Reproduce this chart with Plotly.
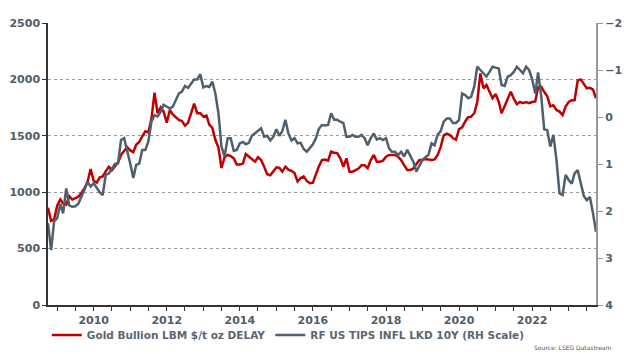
import pandas as pd
import plotly.graph_objects as go

# Monthly observations, Oct 2008 .. Oct 2023
dates = pd.date_range("2008-10-01", periods=181, freq="MS")

gold = [
    862, 745, 760, 880, 935, 900, 890, 965, 935, 945, 960, 995,
    1035, 1095, 1205, 1100, 1085, 1130, 1140, 1185, 1225, 1195, 1235, 1265,
    1330, 1370, 1400, 1370, 1355, 1420, 1445, 1495, 1540, 1530, 1650, 1882,
    1700, 1752, 1714, 1616, 1729, 1690, 1660, 1640, 1630, 1590, 1615, 1700,
    1785, 1700, 1700, 1670, 1680, 1600, 1570, 1465, 1395, 1215, 1310, 1330,
    1320, 1300, 1245, 1245, 1255, 1339, 1315, 1300, 1270, 1310, 1285, 1225,
    1160, 1150, 1185, 1220, 1215, 1182, 1226, 1200, 1190, 1170, 1095, 1125,
    1140, 1100, 1080, 1085, 1160, 1230, 1285, 1290, 1280, 1359, 1350, 1345,
    1300, 1226, 1300, 1182, 1182, 1197, 1210, 1240, 1240, 1212, 1285, 1330,
    1270, 1270, 1280, 1315, 1330, 1330, 1330, 1315, 1285, 1240, 1197, 1197,
    1210, 1250, 1285, 1285, 1295, 1290, 1285, 1290, 1330, 1400, 1505, 1520,
    1507, 1480, 1465, 1560, 1575, 1625, 1665, 1670, 1700, 1800, 2053, 1921,
    1950, 1890, 1832, 1870, 1800, 1700, 1760, 1830, 1891, 1830, 1780, 1800,
    1790, 1800, 1790, 1800, 1805, 1930, 1935, 1890, 1850, 1760, 1770, 1729,
    1715, 1684, 1760, 1800, 1815, 1815, 1990, 2000, 1960, 1921, 1925, 1910,
    1832,
]

tips = [
    2.26, 2.83, 2.22, 2.15, 1.85, 2.05, 1.52, 1.88, 1.91, 1.90, 1.84, 1.70,
    1.55, 1.38, 1.48, 1.41, 1.50, 1.60, 1.66, 1.23, 1.20, 1.10, 1.00, 0.99,
    0.49, 0.45, 0.70, 0.99, 1.30, 1.02, 0.99, 0.70, 0.70, 0.52, 0.10, -0.04,
    -0.01, -0.11, -0.26, -0.22, -0.18, -0.22, -0.36, -0.50, -0.54, -0.66, -0.62, -0.72,
    -0.80, -0.80, -0.91, -0.63, -0.66, -0.64, -0.75, -0.50, -0.08, 0.63, 0.84, 0.45,
    0.45, 0.72, 0.70, 0.56, 0.53, 0.58, 0.55, 0.40, 0.35, 0.30, 0.24, 0.42,
    0.40, 0.50, 0.42, 0.26, 0.40, 0.30, 0.06, 0.35, 0.50, 0.45, 0.56, 0.55,
    0.68, 0.74, 0.66, 0.58, 0.45, 0.25, 0.17, 0.18, 0.17, -0.08, 0.06, 0.06,
    0.10, 0.13, 0.42, 0.42, 0.38, 0.42, 0.42, 0.38, 0.45, 0.60, 0.45, 0.35,
    0.48, 0.45, 0.49, 0.45, 0.67, 0.74, 0.74, 0.81, 0.74, 0.84, 0.70, 0.84,
    0.95, 1.16, 1.02, 0.91, 0.85, 0.81, 0.56, 0.60, 0.38, 0.30, 0.10, 0.03,
    0.03, 0.13, 0.13, 0.06, -0.50, -0.47, -0.40, -0.43, -0.65, -1.07, -1.00, -0.93,
    -0.86, -0.96, -1.07, -1.05, -1.03, -0.68, -0.66, -0.86, -0.89, -0.96, -1.07, -1.00,
    -0.93, -1.07, -1.00, -0.80, -0.50, -0.95, -0.45, 0.26, 0.28, 0.63, 0.38, 0.92,
    1.62, 1.66, 1.23, 1.34, 1.42, 1.20, 1.13, 1.40, 1.68, 1.77, 1.70, 2.05,
    2.44,
]

gold_name = "Gold Bullion LBM $/t oz DELAY"
tips_name = "RF US TIPS INFL LKD 10Y (RH Scale)"
left_ticks = [0, 500, 1000, 1500, 2000, 2500]
right_ticks = [-2, -1, 0, 1, 2, 3, 4]

RED = "#C00000"
GREY = "#4E5F6D"
TXT = "#4F5D6B"
FONT = "DejaVu Sans"

fig = go.Figure()
fig.add_trace(go.Scatter(x=dates, y=gold, name=gold_name, mode="lines",
                         line=dict(color=RED, width=2.5)))
fig.add_trace(go.Scatter(x=dates, y=tips, name=tips_name, mode="lines", yaxis="y2",
                         line=dict(color=GREY, width=2.5)))

tickfont = dict(size=11, color=TXT, family=FONT, weight="bold")

fig.update_layout(
    width=624, height=354,
    margin=dict(l=48, r=28, t=23, b=49, autoexpand=False),
    paper_bgcolor="white", plot_bgcolor="white",
    font=dict(family=FONT, color=TXT, size=11),
    showlegend=True,
    legend=dict(orientation="h", xref="container", yref="container",
                x=0.075, y=0.054, xanchor="left", yanchor="middle",
                font=dict(size=10.5, color="#5A6672", family=FONT, weight="bold"),
                itemwidth=30, tracegroupgap=0, bgcolor="rgba(0,0,0,0)"),
    xaxis=dict(
        type="date", range=["2008-10-01", "2023-10-01"],
        tick0="2010-01-01", dtick="M24", tickformat="%Y",
        ticks="outside", ticklen=4, tickcolor="#333",
        showline=True, linecolor="#333", linewidth=1.5,
        showgrid=False, zeroline=False, tickfont=tickfont,
        minor=dict(dtick="M6", tick0="2010-01-01", ticks="outside", ticklen=4,
                   tickcolor="#333", showgrid=False),
    ),
    yaxis=dict(
        range=[0, 2500], tickvals=left_ticks, ticks="outside", ticklen=4,
        tickcolor="#333", showline=True, linecolor="#333", linewidth=1.5,
        showgrid=True, gridcolor="#999999", griddash="dot", gridwidth=1,
        zeroline=False, tickfont=tickfont,
    ),
    yaxis2=dict(
        range=[4, -2], tickvals=right_ticks, overlaying="y", side="right",
        ticks="outside", ticklen=5, tickcolor="#999", showline=True,
        linecolor="#999999", linewidth=2, showgrid=False, zeroline=False,
        tickfont=tickfont,
    ),
    annotations=[dict(text="Source: LSEG Datastream", xref="paper", yref="paper",
                      x=1.032, y=-0.13, xanchor="right", yanchor="top", showarrow=False,
                      font=dict(size=6, color="#555", family=FONT))],
)

fig.write_html("out.html")
